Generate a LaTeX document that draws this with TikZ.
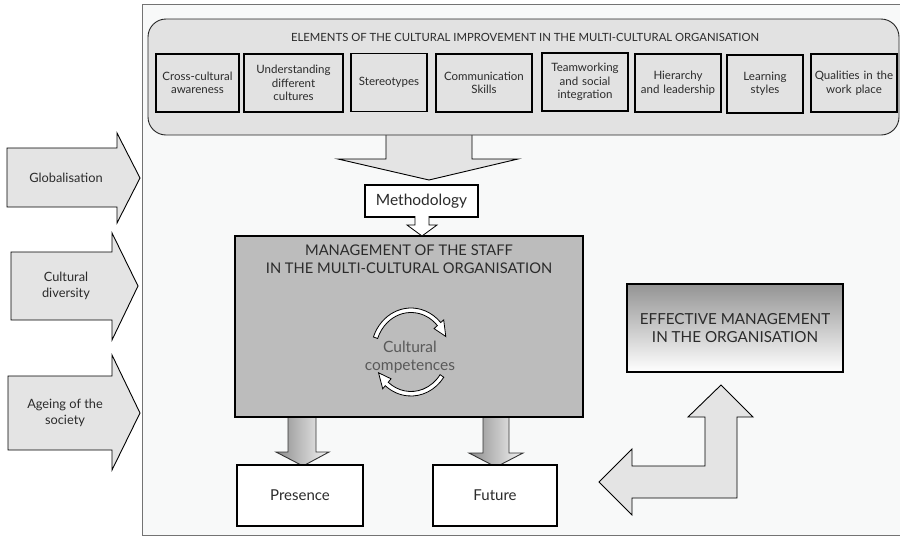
\documentclass[tikz,border=0pt]{standalone}
\usepackage{fontspec}
\setmainfont{Lato}
\usetikzlibrary{positioning,calc,shadows}
\definecolor{framebg}{HTML}{F8F9F9}
\definecolor{panelgray}{HTML}{E2E2E2}
\definecolor{arrowgray}{HTML}{E4E4E4}
\definecolor{mgmtgray}{HTML}{BCBCBC}
\definecolor{textgray}{HTML}{2B2B2B}

\begin{document}
\begin{tikzpicture}[x=1pt, y=-1pt,
  panel/.style={draw=black!85, fill=panelgray, rounded corners=18pt, line width=0.9pt},
  element/.style={draw=black, fill=panelgray, line width=1.1pt, minimum height=58pt, inner sep=1pt, text width=#1, align=center, font=\fontsize{11.5}{13.5}\selectfont, text=textgray},
  side_arrow/.style={draw=black, fill=arrowgray, line width=0.9pt},
  side_label/.style={align=center, font=\fontsize{12.8}{16}\selectfont, text=textgray},
  outcome/.style={draw=black, fill=white, line width=1.4pt, minimum width=#1, minimum height=61pt, font=\fontsize{15}{17}\selectfont, text=textgray},
  shade_arrow/.style={draw=black!80, line width=0.9pt, left color=black!45, right color=black!4},
  cyc_arrow/.style={draw=black, fill=white, line width=0.8pt},
  heavy_shadow/.style={drop shadow={shadow xshift=1.2pt, shadow yshift=-1.2pt, fill=black, opacity=0.85}}]

\useasboundingbox (0,0) rectangle (900,536);
\draw[draw=black!55, fill=framebg, line width=0.8pt] (142,4) rectangle (905,535);

\draw[side_arrow] (386,128) -- (472,128) -- (472,159) -- (518,159) -- (429,180) -- (338,159) -- (386,159) -- cycle;

\node[panel, minimum width=751pt, minimum height=116pt] (elements) at (523.5,77) {};
\node[font=\fontsize{11.3}{13}\selectfont, text=textgray] (elements_title) at (525,37) {ELEMENTS OF THE CULTURAL IMPROVEMENT IN THE MULTI-CULTURAL ORGANISATION};

\node[element=81pt] (cross) at (197.5,83) {Cross-cultural\\awareness};
\node[element=97pt] (understanding) at (293.5,83) {Understanding\\different\\cultures};
\node[element=74pt] (stereotypes) at (389,82.5) {Stereotypes};
\node[element=94pt] (communication) at (484,83) {Communication\\Skills};
\node[element=84pt] (teamwork) at (585,82) {Teamworking\\and social\\integration};
\node[element=84pt] (hierarchy) at (678,83) {Hierarchy\\and leadership};
\node[element=74pt] (learning) at (765,84) {Learning\\styles};
\node[element=84pt] (qualities) at (854,83) {Qualities in the\\work place};

\draw[side_arrow] (7,148) -- (117,148) -- (117,133) -- (140,178) -- (117,223) -- (117,207) -- (7,207) -- cycle;
\node[side_label] (globalisation) at (66,178) {Globalisation};
\draw[side_arrow] (11,252) -- (112,252) -- (112,233) -- (138,286) -- (112,340) -- (112,320) -- (11,320) -- cycle;
\node[side_label] (diversity) at (66,286) {Cultural\\diversity};
\draw[side_arrow] (8,376) -- (112,376) -- (112,355) -- (140,413) -- (112,470) -- (112,450) -- (8,450) -- cycle;
\node[side_label] (ageing) at (65,413) {Ageing of the\\society};

\node[draw=black, fill=white, line width=1.1pt, minimum width=113pt, minimum height=32pt, font=\fontsize{15.5}{17}\selectfont, text=textgray] (method) at (421.5,201) {Methodology};

\draw[shade_arrow] (288,410) -- (288,452) -- (276,452) -- (303,466) -- (329,452) -- (316,452) -- (316,410);
\draw[shade_arrow] (483,410) -- (483,453) -- (469,453) -- (496,467) -- (523,453) -- (509,453) -- (509,410);

\node[draw=black, fill=mgmtgray, line width=1.1pt, minimum width=348pt, minimum height=181pt, heavy_shadow] (mgmt) at (409,326.5) {};
\node[align=center, font=\fontsize{14.7}{18}\selectfont, text=textgray] (mgmt_title) at (409,259) {MANAGEMENT OF THE STAFF\\IN THE MULTI-CULTURAL ORGANISATION};

\draw[cyc_arrow] (415,216) -- (415,225) -- (407,225) -- (422,236) -- (437,225) -- (429,225) -- (429,216);

\coordinate (cyc) at (411,352);
\draw[cyc_arrow] ($(cyc)+(200:40 and 44)$) arc[start angle=200, end angle=318, x radius=40, y radius=44] -- ($(cyc)+(318:44 and 48)$) -- ($(cyc)+(338:37.5 and 41.5)$) -- ($(cyc)+(318:31 and 35)$) -- ($(cyc)+(318:35.5 and 39.5)$) arc[start angle=318, end angle=200, x radius=35.5, y radius=39.5] -- cycle;
\draw[cyc_arrow] ($(cyc)+(35:40 and 44)$) arc[start angle=35, end angle=130, x radius=40, y radius=44] -- ($(cyc)+(130:44 and 48)$) -- ($(cyc)+(150:37.5 and 41.5)$) -- ($(cyc)+(130:31 and 35)$) -- ($(cyc)+(130:35.5 and 39.5)$) arc[start angle=130, end angle=35, x radius=35.5, y radius=39.5] -- cycle;
\node[align=center, font=\fontsize{15.5}{18}\selectfont, text=black!65] (competences) at (410,357) {Cultural\\competences};

\node[outcome=126pt] (presence) at (300,495.5) {Presence};
\node[outcome=124pt] (future) at (495,495.5) {Future};

\node[draw=black, line width=1.1pt, top color=black!42, bottom color=white, minimum width=216pt, minimum height=88pt, align=center, font=\fontsize{15.2}{18}\selectfont, text=textgray, heavy_shadow] (effective) at (735,328) {EFFECTIVE MANAGEMENT\\IN THE ORGANISATION};

\draw[side_arrow] (721,385) -- (753,417) -- (737,417) -- (737,498) -- (632,498) -- (632,515) -- (599,482) -- (632,449) -- (632,466) -- (705,466) -- (705,417) -- (688,417) -- cycle;

\end{tikzpicture}
\end{document}
